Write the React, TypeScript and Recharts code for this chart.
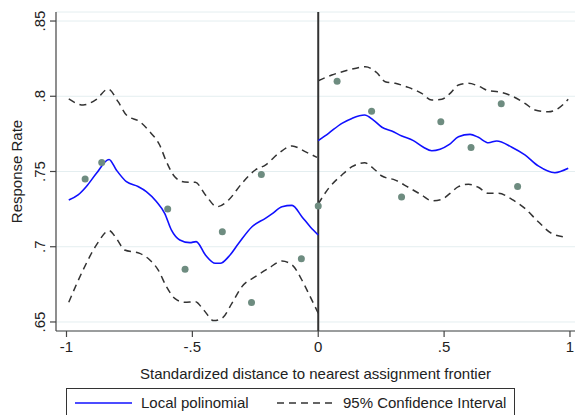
import React from 'react';
import {
  ComposedChart,
  Line,
  Scatter,
  XAxis,
  YAxis,
  CartesianGrid,
  ReferenceLine,
} from 'recharts';

// binned means (dots)
const binX = [-0.926, -0.86, -0.598, -0.529, -0.381, -0.265, -0.226, -0.067, 0.0, 0.075, 0.212, 0.331, 0.487, 0.607, 0.727, 0.792];
const binY = [0.745, 0.756, 0.725, 0.685, 0.71, 0.663, 0.748, 0.692, 0.727, 0.81, 0.79, 0.733, 0.783, 0.766, 0.795, 0.74];

// local polinomial fit, left and right of the frontier
const fitLeftX = [-0.991, -0.954, -0.921, -0.881, -0.831, -0.802, -0.762, -0.716, -0.683, -0.643, -0.61, -0.583, -0.55, -0.51, -0.485, -0.448, -0.409, -0.389, -0.356, -0.316, -0.263, -0.21, -0.184, -0.144, -0.104, -0.065, -0.032, 0];
const fitLeftY = [0.731, 0.7344, 0.74, 0.7488, 0.758, 0.751, 0.7432, 0.74, 0.7366, 0.73, 0.7222, 0.711, 0.7045, 0.7027, 0.7034, 0.6945, 0.689, 0.689, 0.6934, 0.7023, 0.7133, 0.7189, 0.7218, 0.7266, 0.7275, 0.72, 0.7133, 0.7078];
const fitRightX = [0, 0.041, 0.094, 0.134, 0.184, 0.219, 0.253, 0.292, 0.332, 0.378, 0.418, 0.451, 0.484, 0.521, 0.557, 0.603, 0.636, 0.676, 0.709, 0.769, 0.821, 0.874, 0.94, 0.993];
const fitRightY = [0.7705, 0.7754, 0.782, 0.7853, 0.7875, 0.7842, 0.7794, 0.7769, 0.7736, 0.7705, 0.7661, 0.7638, 0.7648, 0.768, 0.7731, 0.7747, 0.7727, 0.7691, 0.7703, 0.7661, 0.761, 0.7537, 0.7492, 0.7521];

// 95% CI bounds
const upLeftX = [-0.991, -0.934, -0.881, -0.835, -0.795, -0.762, -0.709, -0.669, -0.63, -0.603, -0.57, -0.531, -0.488, -0.448, -0.402, -0.356, -0.303, -0.25, -0.21, -0.157, -0.104, -0.052, -0.005];
const upLeftY = [0.7982, 0.7942, 0.798, 0.8048, 0.7964, 0.7875, 0.7831, 0.7764, 0.7676, 0.7565, 0.7465, 0.743, 0.7428, 0.7344, 0.7266, 0.7311, 0.7422, 0.751, 0.7543, 0.7621, 0.767, 0.7632, 0.7594];
const loLeftX = [-0.991, -0.934, -0.881, -0.831, -0.802, -0.769, -0.709, -0.669, -0.636, -0.603, -0.57, -0.531, -0.488, -0.455, -0.415, -0.382, -0.343, -0.303, -0.25, -0.197, -0.144, -0.104, -0.065, -0.032, 0];
const loLeftY = [0.6631, 0.6846, 0.7012, 0.7107, 0.7056, 0.6978, 0.6956, 0.6912, 0.6846, 0.6735, 0.6657, 0.6631, 0.6635, 0.658, 0.6509, 0.6525, 0.6624, 0.6735, 0.6801, 0.6857, 0.6905, 0.6879, 0.6779, 0.6668, 0.6558];
const upRightX = [0, 0.054, 0.12, 0.187, 0.233, 0.266, 0.306, 0.358, 0.411, 0.451, 0.491, 0.524, 0.557, 0.597, 0.636, 0.676, 0.716, 0.769, 0.821, 0.861, 0.914, 0.954, 0.993];
const upRightY = [0.8103, 0.8141, 0.8174, 0.8196, 0.8156, 0.8097, 0.8086, 0.8059, 0.8019, 0.7975, 0.798, 0.8019, 0.8075, 0.8086, 0.8068, 0.8037, 0.803, 0.8002, 0.7953, 0.7909, 0.7897, 0.792, 0.798];
const loRightX = [0, 0.041, 0.094, 0.134, 0.184, 0.226, 0.253, 0.306, 0.358, 0.411, 0.451, 0.491, 0.524, 0.557, 0.597, 0.636, 0.676, 0.716, 0.769, 0.821, 0.874, 0.927, 0.987];
const loRightY = [0.7284, 0.7388, 0.7477, 0.7532, 0.7558, 0.751, 0.747, 0.7443, 0.7395, 0.7344, 0.7306, 0.7315, 0.7355, 0.7399, 0.7415, 0.7395, 0.7355, 0.7355, 0.7315, 0.7255, 0.7166, 0.7089, 0.7063];

const xTicks = [-1, -0.5, 0, 0.5, 1];
const yTicks = [0.65, 0.7, 0.75, 0.8, 0.85];

const font = '"Liberation Sans", Arial, sans-serif';
const axisColor = '#444';

const toPts = (xs: number[], ys: number[]) => xs.map((x, i) => ({ x, y: ys[i] }));

// Stata style labels: ".5", "-.5", ".85"
const fmt = (v: number) => {
  if (v === 0) return '0';
  const s = String(Math.round(v * 100) / 100);
  return s.replace(/^(-?)0\./, '$1.');
};

const YTick = (props: any) => {
  const { y, payload } = props;
  return (
    <text
      x={0}
      y={0}
      transform={`translate(45, ${y}) rotate(-90)`}
      textAnchor="middle"
      fontSize={15}
      fontFamily={font}
      fill="#222"
    >
      {fmt(payload.value)}
    </text>
  );
};

const XTick = (props: any) => {
  const { x, y, payload } = props;
  return (
    <text x={x} y={y + 13} textAnchor="middle" fontSize={15} fontFamily={font} fill="#222">
      {fmt(payload.value)}
    </text>
  );
};

export default function App() {
  const dots = toPts(binX, binY);
  const dash = { stroke: '#333', strokeWidth: 1.5, strokeDasharray: '7 5' };

  return (
    <div style={{ position: 'absolute', left: 0, top: 0, width: 575, height: 415, background: '#fff', fontFamily: font }}>
      <ComposedChart width={575} height={415} margin={{ top: 12, right: 0, left: 0, bottom: 54 }}>
        <CartesianGrid vertical={false} stroke="#e4eef0" strokeWidth={1} />
        <XAxis
          type="number"
          dataKey="x"
          domain={[-1.0417, 1.02]}
          ticks={xTicks}
          tick={<XTick />}
          tickSize={6}
          height={30}
          stroke={axisColor}
          strokeWidth={1.2}
          label={{ value: 'Standardized distance to nearest assignment frontier', position: 'insideBottom', offset: -18, fontSize: 15, fontFamily: font, fill: '#222' }}
        />
        <YAxis
          type="number"
          dataKey="y"
          domain={[0.644, 0.856]}
          ticks={yTicks}
          tick={<YTick />}
          tickSize={6}
          width={56}
          stroke={axisColor}
          strokeWidth={1.2}
          label={{ value: 'Response Rate', angle: -90, position: 'insideLeft', offset: 17, fontSize: 15, fontFamily: font, fill: '#222', style: { textAnchor: 'middle' } }}
        />
        <ReferenceLine x={0} stroke="#333" strokeWidth={2} />
        <Line data={toPts(upLeftX, upLeftY)} dataKey="y" type="monotone" dot={false} {...dash} isAnimationActive={false} />
        <Line data={toPts(loLeftX, loLeftY)} dataKey="y" type="monotone" dot={false} {...dash} isAnimationActive={false} />
        <Line data={toPts(upRightX, upRightY)} dataKey="y" type="monotone" dot={false} {...dash} isAnimationActive={false} />
        <Line data={toPts(loRightX, loRightY)} dataKey="y" type="monotone" dot={false} {...dash} isAnimationActive={false} />
        <Line data={toPts(fitLeftX, fitLeftY)} dataKey="y" type="monotone" dot={false} stroke="#1010ff" strokeWidth={1.6} isAnimationActive={false} />
        <Line data={toPts(fitRightX, fitRightY)} dataKey="y" type="monotone" dot={false} stroke="#1010ff" strokeWidth={1.6} isAnimationActive={false} />
        <Scatter data={dots} dataKey="y" fill="#6e8c80" shape={(p: any) => <circle cx={p.cx} cy={p.cy} r={3.5} fill="#6e8c80" />} isAnimationActive={false} />
      </ComposedChart>

      <div
        style={{
          position: 'absolute',
          left: 66,
          top: 388,
          width: 449,
          height: 40,
          border: '1px solid #333',
          boxSizing: 'border-box',
          fontSize: 15,
          color: '#222',
        }}
      >
        <svg width={449} height={30} style={{ position: 'absolute', left: 0, top: 0 }}>
          <line x1={8} x2={65} y1={14} y2={14} stroke="#1010ff" strokeWidth={1.6} />
          <text x={74} y={19} fontSize={15} fontFamily={font} fill="#222">Local polinomial</text>
          <line x1={210} x2={268} y1={14} y2={14} stroke="#333" strokeWidth={1.5} strokeDasharray="7 5" />
          <text x={276} y={19} fontSize={15} fontFamily={font} fill="#222">95% Confidence Interval</text>
        </svg>
      </div>
    </div>
  );
}
